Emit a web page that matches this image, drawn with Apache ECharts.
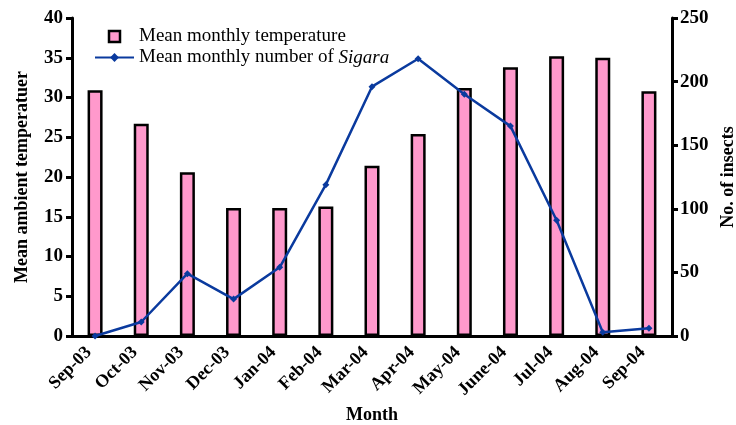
<!DOCTYPE html>
<html>
<head>
<meta charset="utf-8">
<script src="https://cdn.jsdelivr.net/npm/echarts@6/dist/echarts.min.js"></script>
<style>
  html, body { margin: 0; padding: 0; background: #fff; }
  #chart { width: 736px; height: 425px; }
</style>
</head>
<body>
<div id="chart"></div>
<script>
// Monthly categories
const months = ['Sep-03', 'Oct-03', 'Nov-03', 'Dec-03', 'Jan-04', 'Feb-04', 'Mar-04',
                'Apr-04', 'May-04', 'June-04', 'Jul-04', 'Aug-04', 'Sep-04'];
// Mean monthly ambient temperature (left axis)
const temperature = [30.9, 26.7, 20.6, 16.1, 16.1, 16.3, 21.4, 25.4, 31.2, 33.8, 35.2, 35.0, 30.8];
// Mean monthly number of Sigara (right axis)
const insects = [0, 11, 49, 29, 54, 119, 196, 218, 190, 165, 91, 3, 6];

const FONT = '"Liberation Serif", "Times New Roman", serif';
const tempName = 'Mean monthly temperature';
const insectName = 'Mean monthly number of Sigara';
const PINK = '#ff99cc';
const BLUE = '#0a3a9e';

const axisNameStyle = { fontFamily: FONT, fontSize: 18, fontWeight: 'bold', color: '#000' };
const valueLabelStyle = { fontFamily: FONT, fontSize: 19, fontWeight: 'bold', color: '#000' };

const chart = echarts.init(document.getElementById('chart'));
chart.setOption({
  animation: false,
  backgroundColor: '#fff',
  textStyle: { fontFamily: FONT, color: '#000' },
  grid: { left: 72, right: 64, top: 18, bottom: 89, containLabel: false, outerBoundsMode: 'none' },
  legend: {
    orient: 'vertical',
    left: 89,
    top: 22,
    itemWidth: 39,
    itemHeight: 11,
    itemGap: 2,
    formatter: function (name) {
      if (name === insectName) return '{n|Mean monthly number of }{i|Sigara}';
      return '{n|' + name + '}';
    },
    textStyle: {
      fontFamily: FONT, fontSize: 19, color: '#000',
      rich: {
        n: { fontFamily: FONT, fontSize: 19, color: '#000' },
        i: { fontFamily: 'Liberation Serif', fontSize: 19, color: '#000', fontStyle: 'italic' }
      }
    },
    data: [
      { name: tempName, icon: 'path://M0 0H10V10H0Z',
        itemStyle: { color: PINK, borderColor: '#000', borderWidth: 2.5 } },
      { name: insectName }
    ]
  },
  xAxis: {
    type: 'category',
    data: months,
    boundaryGap: true,
    name: 'Month',
    nameLocation: 'middle',
    nameGap: 66,
    nameTextStyle: axisNameStyle,
    axisLine: { lineStyle: { color: '#000', width: 3 } },
    axisTick: { length: 7, lineStyle: { color: '#000', width: 3 } },
    axisLabel: {
      rotate: 45, fontFamily: FONT, fontSize: 18, fontWeight: 'bold', color: '#000',
      margin: 20, verticalAlign: 'bottom', interval: 0
    }
  },
  yAxis: [
    {
      type: 'value', min: 0, max: 40, interval: 5,
      name: 'Mean ambient temperatuer',
      nameLocation: 'middle',
      nameGap: 41,
      nameTextStyle: axisNameStyle,
      axisLine: { show: true, lineStyle: { color: '#000', width: 3 } },
      axisTick: { show: true, length: 6, lineStyle: { color: '#000', width: 3 } },
      axisLabel: Object.assign({ margin: 9 }, valueLabelStyle),
      splitLine: { show: false }
    },
    {
      type: 'value', min: 0, max: 250, interval: 50,
      name: 'No. of insects',
      nameLocation: 'middle',
      nameGap: 46,
      nameTextStyle: axisNameStyle,
      axisLine: { show: true, lineStyle: { color: '#000', width: 3 } },
      axisTick: { show: true, length: 6, lineStyle: { color: '#000', width: 3 } },
      axisLabel: Object.assign({ margin: 8 }, valueLabelStyle),
      splitLine: { show: false }
    }
  ],
  series: [
    {
      name: tempName,
      type: 'bar',
      yAxisIndex: 0,
      data: temperature,
      barWidth: 15,
      itemStyle: { color: PINK, borderColor: '#000', borderWidth: 2.5 }
    },
    {
      name: insectName,
      type: 'line',
      yAxisIndex: 1,
      data: insects,
      symbol: 'diamond',
      symbolSize: 7,
      lineStyle: { color: BLUE, width: 2.5 },
      itemStyle: { color: BLUE }
    }
  ]
});
</script>
</body>
</html>
